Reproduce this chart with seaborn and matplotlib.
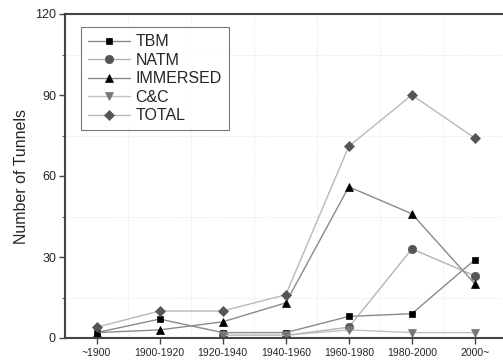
import numpy as np
import pandas as pd
import matplotlib
matplotlib.use("Agg")
import matplotlib.pyplot as plt
from matplotlib.ticker import MultipleLocator
import seaborn as sns

periods = ["~1900", "1900-1920", "1920-1940", "1940-1960", "1960-1980", "1980-2000", "2000~"]
tbm = [2, 7, 2, 2, 8, 9, 29]
natm = [np.nan, np.nan, 1, 1, 4, 33, 23]
immersed = [2, 3, 6, 13, 56, 46, 20]
cc = [np.nan, np.nan, 1, 1, 3, 2, 2]
total = [4, 10, 10, 16, 71, 90, 74]

series_names = ["TBM", "NATM", "IMMERSED", "C&C", "TOTAL"]
series_values = [tbm, natm, immersed, cc, total]
markers = ["s", "o", "^", "v", "D"]
marker_colors = ["#000000", "#555555", "#000000", "#777777", "#555555"]
line_colors = ["#8a8a8a", "#b4b4b4", "#8a8a8a", "#c0c0c0", "#b8b8b8"]
marker_sizes = [5, 6, 6, 6, 5]

sns.set_style("ticks")
plt.rcParams["font.family"] = ["Liberation Sans", "DejaVu Sans"]

fig = plt.figure(figsize=(5.03, 3.62), dpi=100)
ax = fig.add_axes([65 / 503, 24 / 362, 441.5 / 503, 324 / 362])

xpos = np.arange(len(periods))
for name, vals, m, mc, lc, ms in zip(series_names, series_values, markers,
                                     marker_colors, line_colors, marker_sizes):
    df = pd.DataFrame({"x": xpos, "y": vals})
    sns.lineplot(data=df, x="x", y="y", ax=ax, color=lc, lw=1.0,
                 marker=m, markersize=ms, markerfacecolor=mc,
                 markeredgecolor=mc, markeredgewidth=0.5, label=name)

ax.set_xlim(-0.5, 6.5)
ax.set_ylim(0, 120)
ax.set_xticks(xpos)
ax.set_xticklabels(periods, fontsize=7.5)
ax.set_xticks(xpos[:-1] + 0.5, minor=True)
ax.set_yticks([0, 30, 60, 90, 120])
ax.yaxis.set_minor_locator(MultipleLocator(15))
ax.tick_params(axis="y", labelsize=9, length=4.5, width=1, color="#444444", pad=2)
ax.tick_params(axis="x", length=4, width=1, color="#444444", pad=3)
ax.tick_params(axis="y", which="minor", length=2.5, width=0.8, color="#666666")
ax.tick_params(axis="x", which="minor", length=0)
ax.grid(which="minor", color="#e0e0e0", linestyle=(0, (1, 1.5)), linewidth=0.6)
ax.grid(which="major", visible=False)
ax.set_xlabel("")
ax.set_ylabel("Number of Tunnels", fontsize=11.5, labelpad=4)

for side in ["left", "bottom", "top", "right"]:
    ax.spines[side].set_visible(True)
    ax.spines[side].set_color("#444444")
    ax.spines[side].set_linewidth(1.5)

leg = ax.legend(loc="upper left", bbox_to_anchor=(16 / 441.5, 1 - 13 / 324),
                fontsize=11.5, frameon=True, fancybox=False, handlelength=2.6,
                handletextpad=0.35, labelspacing=0.22, borderpad=0.45,
                borderaxespad=0)
leg.get_frame().set_edgecolor("#555555")
leg.get_frame().set_linewidth(0.8)

fig.savefig("out.png", dpi=100)
